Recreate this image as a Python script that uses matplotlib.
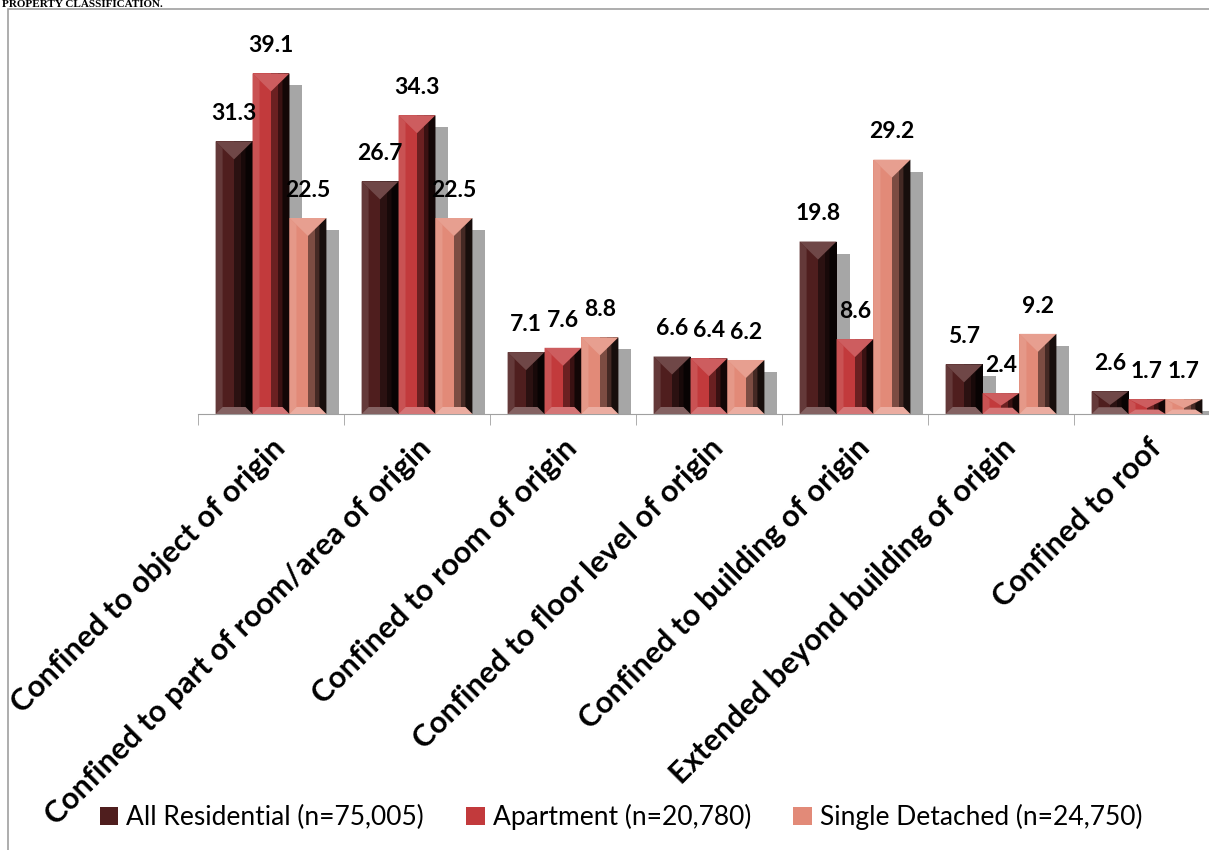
import matplotlib.pyplot as plt
import matplotlib.colors as mcolors
from matplotlib.patches import Polygon, Rectangle, Patch
import numpy as np

categories = ["Confined to object of origin", "Confined to part of room/area of origin",
              "Confined to room of origin", "Confined to floor level of origin",
              "Confined to building of origin", "Extended beyond building of origin",
              "Confined to roof"]
all_residential = [31.3, 26.7, 7.1, 6.6, 19.8, 5.7, 2.6]
apartment = [39.1, 34.3, 7.6, 6.4, 8.6, 2.4, 1.7]
single_detached = [22.5, 22.5, 8.8, 6.2, 29.2, 9.2, 1.7]
series_names = ["All Residential (n=75,005)", "Apartment (n=20,780)", "Single Detached (n=24,750)"]
base_colors = ["#4f1e1e", "#c23a3c", "#e28a78"]

plt.rcParams['font.family'] = ['Lato', 'DejaVu Sans']

fig = plt.figure(figsize=(12.09, 8.5), dpi=100)
ax = fig.add_axes([198 / 1209, 436 / 850, 1022 / 1209, 392 / 850])

x = np.arange(len(categories))
w = 0.253
ymax = 45.0
px_x = 1.0 / 146      # data units per pixel, x
px_y = ymax / 392     # data units per pixel, y


def shade(c, f):
    r, g, b = mcolors.to_rgb(c)
    if f >= 0:
        return (r + (1 - r) * f, g + (1 - g) * f, b + (1 - b) * f)
    f = -f
    return (r * (1 - f), g * (1 - f), b * (1 - f))


def bevel(bar, color):
    x0, wd, h = bar.get_x(), bar.get_width(), bar.get_height()
    x1 = x0 + wd
    xc = x0 + wd / 2
    bx = 7 * px_x
    by = min(7 * px_y, h * 0.3)
    # front strips: lighter on left, dark to the right
    strips = [(0.0, 0.5, 0.0), (0.5, 0.68, -0.45), (0.68, 0.85, -0.7), (0.85, 1.0, -0.85)]
    for a, b, f in strips:
        ax.add_patch(Rectangle((x0 + a * wd, 0), (b - a) * wd, h, color=shade(color, f),
                               lw=0, zorder=3))
    ax.add_patch(Polygon([(x0, 0), (x0, h), (x0 + bx, h - by), (x0 + bx, by)],
                         color=shade(color, 0.12), lw=0, zorder=4))
    ax.add_patch(Polygon([(x1, 0), (x1, h), (x1 - bx, h - by), (x1 - bx, by)],
                         color=shade(color, -0.9), lw=0, zorder=4))
    depth = min(18 * px_y, h * 0.6)
    ax.add_patch(Polygon([(x0, h), (x1, h), (xc, h - depth)],
                         color=shade(color, 0.18), lw=0, zorder=5))
    ax.add_patch(Polygon([(x0, 0), (x1, 0), (x1 - bx, by), (x0 + bx, by)],
                         color=shade(color, 0.3), lw=0, zorder=5))


groups = [all_residential, apartment, single_detached]
offsets = [-w, 0, w]
for vals, off, col in zip(groups, offsets, base_colors):
    # shadow
    sh = [max(v - 12 * px_y, 0) for v in vals]
    ax.bar(x + off + 13 * px_x, sh, w, color="#a6a6a6", lw=0, zorder=1)
    bars = ax.bar(x + off, vals, w, color=col, lw=0, zorder=2)
    for b, v in zip(bars, vals):
        bevel(b, col)
        ax.annotate(f"{v}", (b.get_x() + b.get_width() / 2, v), xytext=(0, 20),
                    textcoords="offset points", ha="center", va="center",
                    fontsize=16.5, fontweight="bold", color="black", zorder=6)

ax.set_xlim(-0.5, len(categories) - 0.5)
ax.set_ylim(0, ymax)
for s in ["top", "right", "left"]:
    ax.spines[s].set_visible(False)
ax.spines["bottom"].set_color("#a0a0a0")
ax.set_yticks([])
ax.set_xticks(x)
ax.set_xticklabels(categories, rotation=45, ha="right", va="top", rotation_mode="anchor",
                   fontsize=22, fontweight="bold")
ax.tick_params(axis="x", which="major", length=0, pad=14)
ax.set_xticks(np.arange(-0.5, len(categories), 1.0), minor=True)
ax.tick_params(axis="x", which="minor", length=8, color="#a0a0a0", direction="out")

handles = [Patch(facecolor=c, edgecolor="none") for c in base_colors]
fig.legend(handles, series_names, loc="center", bbox_to_anchor=(621 / 1209, 1 - 817 / 850),
           ncol=3, frameon=False, fontsize=19, handlelength=0.7, handleheight=0.7,
           handletextpad=0.3, columnspacing=1.6)

fig.add_artist(Rectangle((8 / 1209, -0.1), 1.1, 1.1 - 9 / 850, transform=fig.transFigure,
                         fill=False, edgecolor="#a0a0a0", lw=1.2))
fig.text(2 / 1209, 1 - 7 / 850, "PROPERTY CLASSIFICATION.", family="Liberation Serif",
         fontweight="bold", fontsize=8, va="baseline", ha="left")

fig.savefig("out.png", dpi=100)
